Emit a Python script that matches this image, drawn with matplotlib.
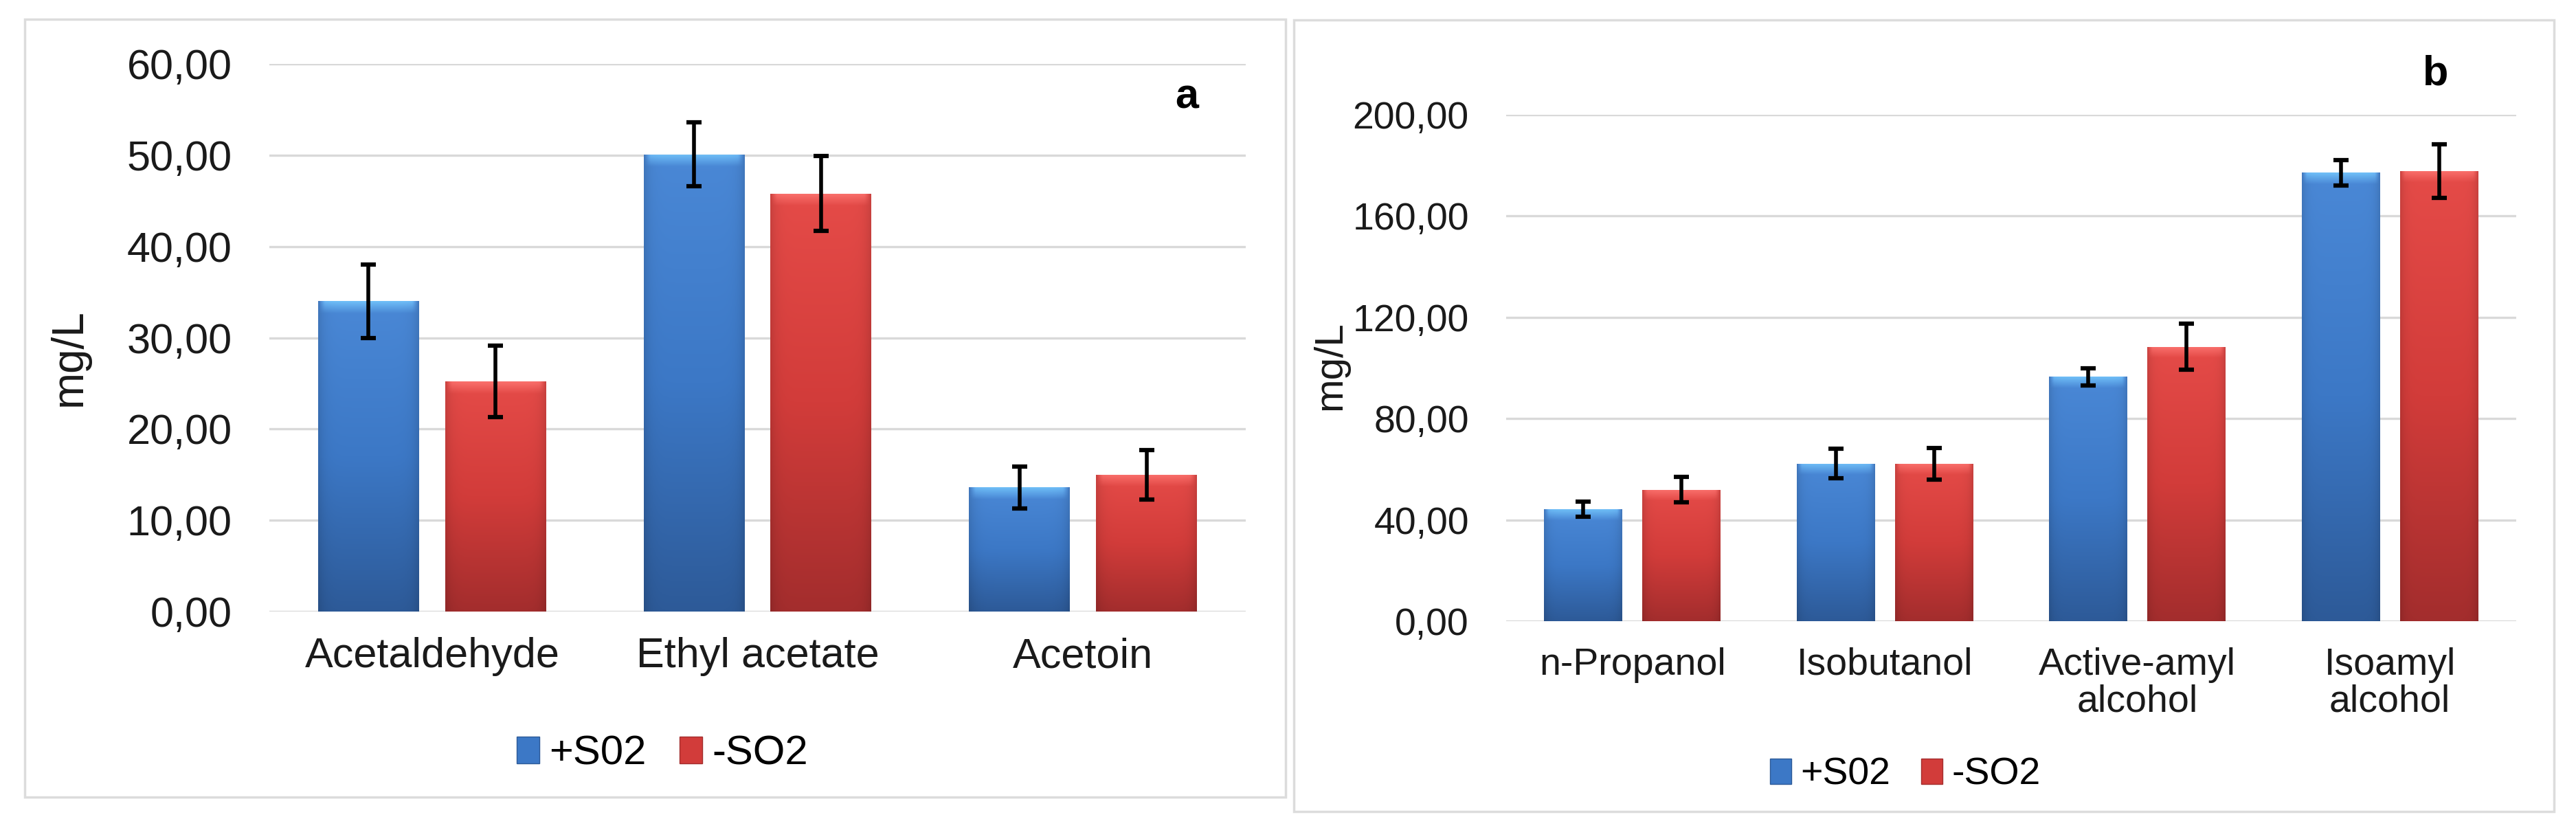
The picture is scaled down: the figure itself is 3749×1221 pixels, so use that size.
import numpy as np
import matplotlib
matplotlib.use("Agg")
import matplotlib.pyplot as plt
from matplotlib.patches import Rectangle, Patch
from matplotlib.ticker import FuncFormatter
from matplotlib.colors import to_rgb

plt.rcParams['font.family'] = ['Liberation Sans', 'DejaVu Sans']

# ---- data ----
cats_a = ["Acetaldehyde", "Ethyl acetate", "Acetoin"]
plus_a = [34.0, 50.1, 13.6]
plus_a_err = [4.0, 3.5, 2.3]
minus_a = [25.2, 45.8, 15.0]
minus_a_err = [3.9, 4.1, 2.7]
yticks_a = [0, 10, 20, 30, 40, 50, 60]

cats_b = ["n-Propanol", "Isobutanol", "Active-amyl\nalcohol", "Isoamyl\nalcohol"]
plus_b = [44.2, 62.2, 96.5, 177.1]
plus_b_err = [3.0, 5.8, 3.4, 5.0]
minus_b = [51.9, 62.2, 108.4, 177.8]
minus_b_err = [5.0, 6.2, 9.2, 10.6]
yticks_b = [0, 40, 80, 120, 160, 200]

series_names = ["+S02", "-SO2"]

W, H = 3749, 1221
fig = plt.figure(figsize=(W / 100, H / 100), dpi=100)

BLUE_TOP, BLUE_MID, BLUE_BOT = "#4a88d6", "#3c78c6", "#2d5a98"
RED_TOP, RED_MID, RED_BOT = "#e54b48", "#d23c3a", "#a32d2d"
GRID = "#d9d9d9"


def px_rect(x0, y0, x1, y1):
    return [x0 / W, 1 - y1 / H, (x1 - x0) / W, (y1 - y0) / H]


# panel frames
for (x0, y0, x1, y1) in [(36, 28, 1871, 1160), (1883, 29, 3717, 1181)]:
    r = px_rect(x0, y0, x1, y1)
    fig.patches.append(Rectangle((r[0], r[1]), r[2], r[3], transform=fig.transFigure,
                                 facecolor="none", edgecolor="#dcdcdc", linewidth=2.5,
                                 zorder=-10))


def shade_bar(ax, bar, top, mid, bot):
    x0, w, h = bar.get_x(), bar.get_width(), bar.get_height()
    n = 400
    t = np.linspace(0, 1, n)[:, None, None]  # 0 top -> 1 bottom
    ct, cm, cb = [np.array(to_rgb(c)) for c in (top, mid, bot)]
    col = np.where(t < 0.5, ct + (cm - ct) * (t / 0.5), cm + (cb - cm) * ((t - 0.5) / 0.5))
    col = np.repeat(col, 80, axis=1)
    xs = np.linspace(0, 1, 80)
    edge = 1 - 0.12 * (np.abs(xs - 0.5) * 2) ** 8
    col = col * edge[None, :, None]
    # soft top bevel highlight (fixed height relative to the y range)
    ymax = ax.get_ylim()[1]
    frac = min(0.022 * ymax / max(h, 1e-6), 0.3)
    depth = np.clip(1 - np.linspace(0, 1, n) / frac, 0, 1)[:, None, None]
    xfade = np.clip(np.minimum(xs, 1 - xs) / 0.06, 0, 1)[None, :, None]
    hl = depth * xfade
    col = col + (np.clip(col * 1.35 + 0.08, 0, 1) - col) * hl * 0.8
    im = ax.imshow(np.clip(col, 0, 1), extent=[x0, x0 + w, 0, h], aspect="auto",
                   zorder=2, interpolation="bilinear")
    im.set_clip_path(bar)


def draw_panel(rect, cats, plus, plus_err, minus, minus_err, yticks, tick_fs, letter, letter_xy,
               ylab_xy, ylab_fs, leg_xy, leg_fs):
    ax = fig.add_axes(rect)
    ax.set_facecolor("none")
    x = np.arange(len(cats))
    w = 0.31
    off = 0.195
    ax.set_xlim(-0.5, len(cats) - 0.5)
    ax.set_ylim(yticks[0], yticks[-1])
    b1 = ax.bar(x - off, plus, w, color=BLUE_MID, zorder=2, linewidth=0)
    b2 = ax.bar(x + off, minus, w, color=RED_MID, zorder=2, linewidth=0)
    for b in b1:
        shade_bar(ax, b, BLUE_TOP, BLUE_MID, BLUE_BOT)
    for b in b2:
        shade_bar(ax, b, RED_TOP, RED_MID, RED_BOT)
    ax.errorbar(x - off, plus, yerr=plus_err, fmt="none", ecolor="black", elinewidth=4,
                capsize=8, capthick=4.5, zorder=4)
    ax.errorbar(x + off, minus, yerr=minus_err, fmt="none", ecolor="black", elinewidth=4,
                capsize=8, capthick=4.5, zorder=4)
    ax.set_xlim(-0.5, len(cats) - 0.5)
    ax.set_ylim(yticks[0], yticks[-1])
    ax.set_yticks(yticks)
    ax.yaxis.set_major_formatter(FuncFormatter(lambda v, p: f"{v:.2f}".replace(".", ",")))
    ax.set_xticks(x)
    ax.set_xticklabels(cats, fontsize=tick_fs, linespacing=1.05)
    ax.tick_params(axis="y", length=0, pad=39, labelsize=tick_fs)
    ax.tick_params(axis="x", length=0, pad=27)
    ax.grid(axis="y", color=GRID, linewidth=2.4, zorder=1)
    ax.set_axisbelow(True)
    for s in ax.spines.values():
        s.set_visible(False)
    for lab in ax.get_yticklabels() + ax.get_xticklabels():
        lab.set_color("#1a1a1a")
    fig.text(letter_xy[0] / W, 1 - letter_xy[1] / H, letter, fontsize=44, fontweight="bold",
             ha="center", va="center")
    fig.text(ylab_xy[0] / W, 1 - ylab_xy[1] / H, "mg/L", fontsize=ylab_fs, rotation=90,
             ha="center", va="center", color="#1a1a1a")
    handles = [Patch(facecolor=BLUE_MID, edgecolor="#2d5a98", linewidth=1),
               Patch(facecolor=RED_MID, edgecolor="#a32d2d", linewidth=1)]
    fig.legend(handles, series_names, loc="center",
               bbox_to_anchor=(leg_xy[0] / W, 1 - leg_xy[1] / H), ncol=2, frameon=False,
               fontsize=leg_fs, handlelength=0.55, handleheight=0.65, handletextpad=0.25,
               columnspacing=0.8, borderpad=0, borderaxespad=0)
    return ax


draw_panel(px_rect(392, 93, 1813, 890), cats_a, plus_a, plus_a_err, minus_a, minus_a_err,
           yticks_a, 44, "a", (1727, 142), (101, 520), 46, (964, 1097), 43)
draw_panel(px_rect(2192, 167, 3662, 904), cats_b, plus_b, plus_b_err, minus_b, minus_b_err,
           yticks_b, 40, "b", (3545, 108), (1936, 532), 42, (2773, 1128), 40)

fig.savefig("out.png", dpi=100, facecolor="white")
